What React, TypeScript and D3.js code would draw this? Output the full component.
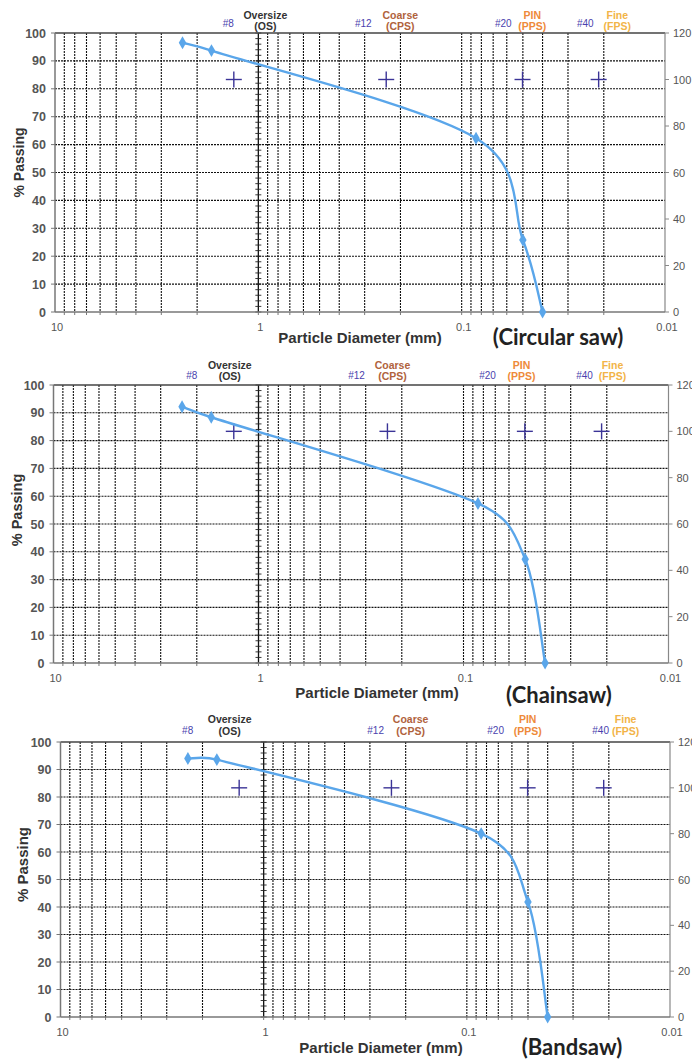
import React from 'react';
import * as d3 from 'd3';

// ---------- data ----------
const sieveSizesMm = [2.36, 1.7, 0.085, 0.05, 0.04];
const circularSawPassing = [96.5, 93.7, 62.3, 25.8, 0];
const chainsawPassing = [92.2, 88.4, 57.4, 37.3, 0];
const bandsawPassing = [94.0, 93.6, 66.7, 41.8, 0];
const classMarkerMm = [1.32, 0.235, 0.0502, 0.0212];
const classMarkerRightValue = 100;
const sieveLabels = ['#8', '#12', '#20', '#40'];
const classNames = ['Oversize', 'Coarse', 'PIN', 'Fine'];
const classCodes = ['(OS)', '(CPS)', '(PPS)', '(FPS)'];
const leftTicks = [0, 10, 20, 30, 40, 50, 60, 70, 80, 90, 100];
const rightTicks = [0, 20, 40, 60, 80, 100, 120];
const xTickValues = [10, 1, 0.1, 0.01];
const xTickLabels = ['10', '1', '0.1', '0.01'];
const chartTitles = ['(Circular saw)', '(Chainsaw)', '(Bandsaw)'];
const xAxisTitle = 'Particle Diameter (mm)';
const yAxisTitle = '% Passing';

// ---------- layout / style ----------
const classColors = ['#333333', '#b0623c', '#ee8a3a', '#f2b447'];
const sieveColor = '#4a3fae';
const curveColor = '#5aa6ea';
const crossColor = '#3b3497';

type Layout = {
  left: number; right: number; top: number; bottom: number;
  sieveDx: number[]; classDx: number[];
  line1: number; line2: number; sieveDy: number;
  yTitleDy: number; yTitleX: number; yTitleSize: number;
  xTitleCx: number; xTitleDy: number;
  titleCx: number; titleDy: number;
};

const layouts: Layout[] = [
  { left: 55, right: 665, top: 33, bottom: 312,
    sieveDx: [-30, 105, 245, 327], classDx: [7, 142, 274, 359],
    line1: -14.5, line2: -3.5, sieveDy: -6.5,
    yTitleDy: -10, yTitleX: 24, yTitleSize: 14,
    xTitleCx: 360, xTitleDy: 31, titleCx: 558, titleDy: 33 },
  { left: 53.5, right: 668.5, top: 385, bottom: 663,
    sieveDx: [-66.7, 98, 229, 326], classDx: [-28.7, 134, 263, 354],
    line1: -16.5, line2: -5.5, sieveDy: -6.5,
    yTitleDy: -14, yTitleX: 22, yTitleSize: 14.5,
    xTitleCx: 377, xTitleDy: 35, titleCx: 559, titleDy: 40 },
  { left: 60.5, right: 670, top: 742, bottom: 1017,
    sieveDx: [-76, 112, 232, 337], classDx: [-34, 147, 264, 362],
    line1: -19, line2: -7, sieveDy: -8,
    yTitleDy: -15, yTitleX: 28, yTitleSize: 15,
    xTitleCx: 381, xTitleDy: 36, titleCx: 572, titleDy: 38 },
];

const seriesList = [circularSawPassing, chainsawPassing, bandsawPassing];

const FONT = "'Liberation Sans', Arial, sans-serif";

// Spreadsheet-style smoothed line as a d3 curve factory
function curveSpreadsheetSmooth(context: any) {
  let pts: [number, number][] = [];
  const dist = (a: [number, number], b: [number, number]) => Math.hypot(b[0] - a[0], b[1] - a[1]);
  return {
    areaStart() {},
    areaEnd() {},
    lineStart() { pts = []; },
    point(x: number, y: number) { pts.push([+x, +y]); },
    lineEnd() {
      const n = pts.length;
      if (!n) return;
      context.moveTo(pts[0][0], pts[0][1]);
      for (let i = 0; i < n - 1; i++) {
        const p0 = pts[Math.max(0, i - 1)], p1 = pts[i], p2 = pts[i + 1], p3 = pts[Math.min(n - 1, i + 2)];
        const d12 = dist(p1, p2), d02 = dist(p0, p2), d13 = dist(p1, p3);
        let f1 = 1 / 6, f2 = 1 / 6;
        if (d02 / 6 > d12 / 2 && d02 > 0) f1 = d12 / (2 * d02);
        if (d13 / 6 > d12 / 2 && d13 > 0) f2 = d12 / (2 * d13);
        const c1x = p1[0] + f1 * (p2[0] - p0[0]);
        const c1y = p1[1] + f1 * (p2[1] - p0[1]);
        const c2x = p2[0] - f2 * (p3[0] - p1[0]);
        const c2y = p2[1] - f2 * (p3[1] - p1[1]);
        context.bezierCurveTo(c1x, c1y, c2x, c2y, p2[0], p2[1]);
      }
    },
  };
}

function Chart({ L, passing, title }: { L: Layout; passing: number[]; title: string }) {
  const x = d3.scaleLog().domain([10, 0.01]).range([L.left, L.right]);
  const y = d3.scaleLinear().domain([0, 100]).range([L.bottom, L.top]);
  const y2 = d3.scaleLinear().domain([0, 120]).range([L.bottom, L.top]);
  const gridX = x.ticks().filter((v) => v < 9.99 && v > 0.0101);
  const x1 = x(1);

  const pts: [number, number][] = sieveSizesMm.map((d, i) => [x(d), y(passing[i])]);
  const line = d3.line().curve(curveSpreadsheetSmooth as any)(pts) || '';
  const diamond = d3.symbol(d3.symbolDiamond, 48)() || '';
  const minorTicks = d3.range(0, 101, 2);
  const crossY = y2(classMarkerRightValue);
  const grid = { stroke: '#111', strokeWidth: 1.1, strokeDasharray: '2 1' };

  return (
    <g>
      {/* horizontal grid */}
      {leftTicks.filter((t) => t > 0 && t < 100).map((t) => (
        <line key={'h' + t} x1={L.left} x2={L.right} y1={y(t)} y2={y(t)} {...grid} />
      ))}
      {/* vertical grid */}
      {gridX.filter((v) => Math.abs(v - 1) > 1e-9).map((v) => (
        <line key={'v' + v} x1={x(v)} x2={x(v)} y1={L.top} y2={L.bottom} {...grid} />
      ))}
      {/* x = 1 line with dense ticks */}
      <line x1={x1} x2={x1} y1={L.top} y2={L.bottom} stroke="#111" strokeWidth={1.3} />
      {minorTicks.map((t) => (
        <line key={'m' + t} x1={x1 - 3} x2={x1 + 3} y1={y(t)} y2={y(t)} stroke="#222" strokeWidth={0.9} />
      ))}
      {/* borders */}
      <line x1={L.left} x2={L.right} y1={L.top} y2={L.top} stroke="#444" strokeWidth={1.3} />
      <line x1={L.right} x2={L.right} y1={L.top} y2={L.bottom} stroke="#888" strokeWidth={1.2} />
      <line x1={L.left} x2={L.left} y1={L.top} y2={L.bottom} stroke="#777" strokeWidth={1.5} />
      <line x1={L.left} x2={L.right} y1={L.bottom} y2={L.bottom} stroke="#777" strokeWidth={1.5} />
      {/* left ticks */}
      {leftTicks.map((t) => (
        <g key={'lt' + t}>
          <line x1={L.left - 4} x2={L.left} y1={y(t)} y2={y(t)} stroke="#777" strokeWidth={1} />
          <text x={L.left - 9} y={y(t) + 4.5} textAnchor="end" fontFamily={FONT} fontSize={12.5}
            fontWeight="bold" fill="#555">{t}</text>
        </g>
      ))}
      {/* right ticks */}
      {rightTicks.map((t) => (
        <g key={'rt' + t}>
          <line x1={L.right} x2={L.right + 4} y1={y2(t)} y2={y2(t)} stroke="#888" strokeWidth={1} />
          <text x={L.right + 8} y={y2(t) + 4} textAnchor="start" fontFamily={FONT} fontSize={11}
            fill="#555">{t}</text>
        </g>
      ))}
      {/* bottom ticks */}
      {gridX.map((v) => (
        <line key={'bt' + v} x1={x(v)} x2={x(v)} y1={L.bottom} y2={L.bottom + 3} stroke="#777" strokeWidth={1} />
      ))}
      {xTickValues.map((v, i) => (
        <text key={'xl' + i} x={x(v) + 2} y={L.bottom + 19} textAnchor="middle" fontFamily={FONT}
          fontSize={11} fill="#555">{xTickLabels[i]}</text>
      ))}
      {/* class crosses */}
      {classMarkerMm.map((d, i) => (
        <g key={'c' + i} stroke={crossColor} strokeWidth={1.4}>
          <line x1={x(d) - 8} x2={x(d) + 8} y1={crossY} y2={crossY} />
          <line x1={x(d)} x2={x(d)} y1={crossY - 8} y2={crossY + 8} />
        </g>
      ))}
      {/* curve */}
      <path d={line} fill="none" stroke={curveColor} strokeWidth={2.4} />
      {pts.map((p, i) => (
        <path key={'p' + i} d={diamond} transform={`translate(${p[0]},${p[1]})`} fill={curveColor} />
      ))}
      {/* top labels */}
      {sieveLabels.map((s, i) => (
        <text key={'s' + i} x={x1 + L.sieveDx[i]} y={L.top + L.sieveDy} textAnchor="middle"
          fontFamily={FONT} fontSize={10} fill={sieveColor}>{s}</text>
      ))}
      {classNames.map((s, i) => (
        <g key={'cn' + i}>
          <text x={x1 + L.classDx[i]} y={L.top + L.line1} textAnchor="middle" fontFamily={FONT}
            fontSize={10.5} fontWeight="bold" fill={classColors[i]}>{s}</text>
          <text x={x1 + L.classDx[i]} y={L.top + L.line2} textAnchor="middle" fontFamily={FONT}
            fontSize={10.5} fontWeight="bold" fill={classColors[i]}>{classCodes[i]}</text>
        </g>
      ))}
      {/* axis titles */}
      <text transform={`translate(${L.yTitleX},${(L.top + L.bottom) / 2 + L.yTitleDy}) rotate(-90)`}
        textAnchor="middle" fontFamily={FONT} fontSize={L.yTitleSize} fontWeight="bold" fill="#333">{yAxisTitle}</text>
      <text x={L.xTitleCx} y={L.bottom + L.xTitleDy} textAnchor="middle" fontFamily={FONT}
        fontSize={15} fontWeight="bold" fill="#333">{xAxisTitle}</text>
      <text x={L.titleCx} y={L.bottom + L.titleDy} textAnchor="middle" fontFamily="Lato, 'Open Sans', sans-serif"
        fontSize={22} fontWeight="bold" fill="#222">{title}</text>
    </g>
  );
}

export default function App() {
  return (
    <div style={{ position: 'absolute', left: 0, top: 0 }}>
      <svg width={692} height={1061} viewBox="0 0 692 1061" style={{ display: 'block', background: '#fff' }}>
        {layouts.map((L, i) => (
          <Chart key={i} L={L} passing={seriesList[i]} title={chartTitles[i]} />
        ))}
      </svg>
    </div>
  );
}
